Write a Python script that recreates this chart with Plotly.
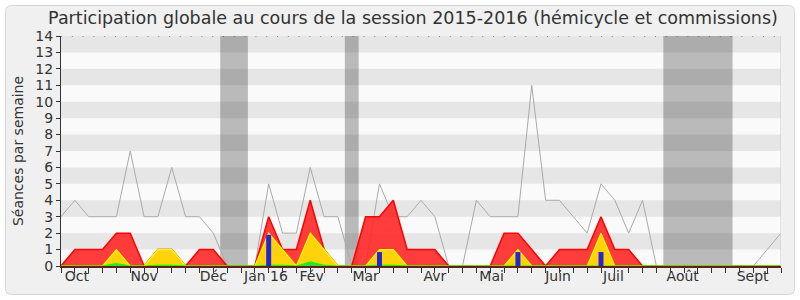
import plotly.graph_objects as go

weeks = list(range(53))
total = [3, 4, 3, 3, 3, 7, 3, 3, 6, 3, 3, 2, 0, 0, 0, 5, 2, 2, 6, 3, 3, 0, 0, 5, 3, 3, 4, 3, 0, 0,
         4, 3, 3, 3, 11, 4, 4, 3, 2, 5, 4, 2, 4, 0, 0, 0, 0, 0, 0, 0, 0, 1, 2]
presence = [0, 1, 1, 1, 2, 2, 0, 1, 1, 0, 1, 1, 0, 0, 0, 3, 1, 1, 4, 1, 0, 0, 3, 3, 4, 1, 1, 1, 0, 0,
            0, 0, 2, 2, 1, 0, 1, 1, 1, 3, 1, 1, 0, 0, 0, 0, 0, 0, 0, 0, 0, 0, 0]
participation = [0, 0, 0, 0, 1, 0, 0, 1, 1, 0, 0, 0, 0, 0, 0, 2, 1, 0, 2, 1, 0, 0, 0, 1, 1, 0, 0, 0, 0, 0,
                 0, 0, 0, 1, 0, 0, 0, 0, 0, 2, 0, 0, 0, 0, 0, 0, 0, 0, 0, 0, 0, 0, 0]
mediane = [0, 0, 0, 0, 0.15, 0, 0, 0.05, 0.05, 0, 0, 0, 0, 0, 0, 0.05, 0.05, 0, 0.25, 0.05, 0, 0, 0, 0.05, 0.05, 0, 0, 0, 0, 0,
           0, 0, 0, 0.03, 0, 0, 0, 0, 0, 0.03, 0, 0, 0, 0, 0, 0, 0, 0, 0, 0, 0, 0, 0]
question_weeks = [15, 23, 33, 39]
question_values = [1.9, 0.85, 0.85, 0.85]
vacances = [(11.5, 13.5), (20.5, 21.5), (43.5, 48.5)]
month_pos = [1.15, 6.0, 11.0, 14.8, 18.1, 22.0, 27.0, 31.1, 35.9, 39.9, 44.9, 49.95]
month_labels = ["Oct", "Nov", "Déc", "Jan 16", "Fév", "Mar", "Avr", "Mai", "Juin", "Juil", "Août", "Sept"]
title = "Participation globale au cours de la session 2015-2016 (hémicycle et commissions)"

W, H = 800, 300
L, R, T, B = 61, 19, 36, 34
pw, ph = W - L - R, H - T - B

def px(x):
    return (x - L) / pw

def py(y):
    return (H - B - y) / ph

fig = go.Figure()
fig.add_trace(go.Scatter(x=weeks, y=total, mode="lines", line=dict(color="#aaaaaa", width=1), hoverinfo="skip"))
fig.add_trace(go.Scatter(x=weeks, y=presence, mode="lines", fill="tozeroy", fillcolor="rgba(255,40,40,0.9)",
                         line=dict(color="#ff0000", width=1.5), hoverinfo="skip"))
fig.add_trace(go.Scatter(x=weeks, y=participation, mode="lines", fill="tozeroy", fillcolor="#ffd20a",
                         line=dict(color="#ffff00", width=1.2), hoverinfo="skip"))
fig.add_trace(go.Scatter(x=weeks, y=mediane, mode="lines", fill="tozeroy", fillcolor="#33dd33",
                         line=dict(color="#00ff00", width=1), hoverinfo="skip"))
# bars on the overlay axis so they are drawn above the filled areas
fig.add_trace(go.Bar(x=question_weeks, y=question_values, width=0.36, xaxis="x2",
                     marker=dict(color="#2525d6", line=dict(width=0)), hoverinfo="skip"))

shapes = []
x0, y0, x1, y1, r = px(5.5), py(5.5), px(794.5), py(294.5), 6
rx, ry = r / pw, r / ph
path = (f"M {x0+rx},{y0} L {x1-rx},{y0} Q {x1},{y0} {x1},{y0-ry} L {x1},{y1+ry} Q {x1},{y1} {x1-rx},{y1} "
        f"L {x0+rx},{y1} Q {x0},{y1} {x0},{y1+ry} L {x0},{y0-ry} Q {x0},{y0} {x0+rx},{y0} Z")
shapes.append(dict(type="path", xref="paper", yref="paper", path=path, fillcolor="#f0f0f0",
                   line=dict(color="#d6d6d6", width=1), layer="below"))
shapes.append(dict(type="rect", xref="x", yref="y", x0=0, x1=52, y0=0, y1=14, fillcolor="#fafafa",
                   line=dict(width=0), layer="below"))
for k in range(1, 14, 2):
    shapes.append(dict(type="rect", xref="x", yref="y", x0=0, x1=52, y0=k, y1=k + 1, fillcolor="#e6e6e6",
                       line=dict(width=0), layer="below"))
for a, b in vacances:
    shapes.append(dict(type="rect", xref="x", yref="y", x0=a, x1=b, y0=0, y1=14, fillcolor="rgba(40,40,40,0.3)",
                       line=dict(width=0), layer="below"))
shapes.append(dict(type="line", xref="x", yref="y", x0=0, x1=52, y0=14, y1=14,
                   line=dict(color="#333333", width=1, dash="1px,9.8px"), layer="above"))
shapes.append(dict(type="line", xref="x", yref="y", x0=52, x1=52, y0=0, y1=14,
                   line=dict(color="#cccccc", width=1), layer="above"))

fig.update_layout(
    width=W, height=H, margin=dict(l=L, r=R, t=T, b=B),
    paper_bgcolor="white", plot_bgcolor="rgba(0,0,0,0)",
    showlegend=False, shapes=shapes, barmode="overlay",
    font=dict(family="DejaVu Sans", color="#333333"),
    title=dict(text=title, x=413 / W, xanchor="center", xref="container", y=1 - 18 / H, yanchor="middle",
               yref="container", font=dict(size=17.5, color="#333333")),
    xaxis=dict(range=[0, 52], tickvals=weeks, showticklabels=False, ticks="outside", ticklen=5,
               tickcolor="#333333", showline=True, linecolor="#5a2418", linewidth=1.5, showgrid=False,
               zeroline=False, fixedrange=True),
    xaxis2=dict(range=[0, 52], overlaying="x", anchor="y", side="bottom", tickvals=month_pos,
                ticktext=month_labels, ticks="", showline=False, showgrid=False, zeroline=False,
                tickfont=dict(size=14, color="#333333")),
    yaxis=dict(range=[0, 14], dtick=1, tick0=0, ticks="outside", ticklen=4, tickcolor="#333333",
               showline=True, linecolor="#333333", showgrid=False, zeroline=False,
               tickfont=dict(size=14, color="#333333"),
               title=dict(text="Séances par semaine", font=dict(size=14, color="#333333"), standoff=8)),
)

fig.write_html("out.html")
